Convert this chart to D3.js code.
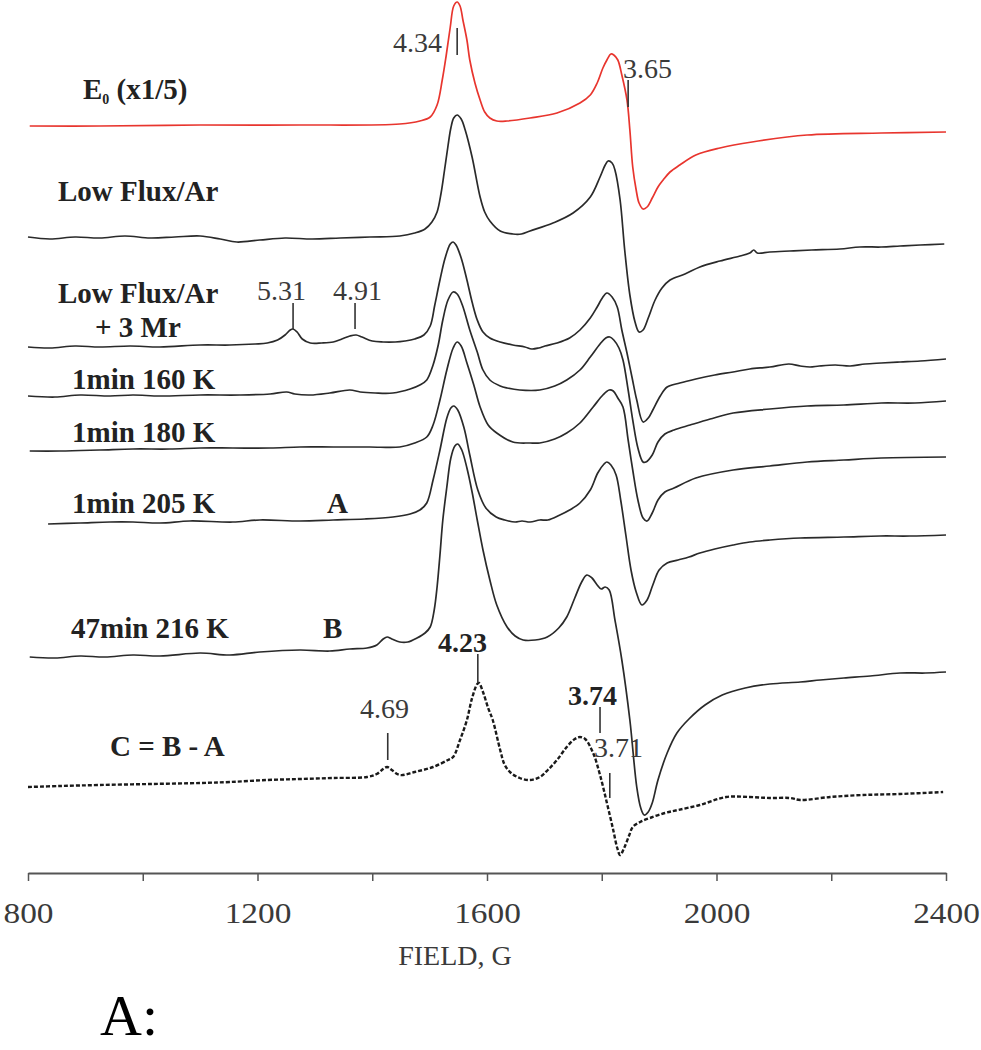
<!DOCTYPE html>
<html>
<head>
<meta charset="utf-8">
<script src="https://cdn.jsdelivr.net/npm/d3@7"></script>
<style>
  html, body { margin: 0; padding: 0; background: #fff; }
  svg { display: block; }
  text { font-family: "Liberation Serif", "Times New Roman", serif; }
</style>
</head>
<body>
<div id="chart"></div>
<script>
// ---------------- DATA ----------------
// x-axis ticks (field, G)
const tickValues = [800, 1000, 1200, 1400, 1600, 1800, 2000, 2200, 2400];
const tickLabels = ["800", "", "1200", "", "1600", "", "2000", "", "2400"];

// trace names and vertical offsets (arbitrary intensity units)
const traceNames = ["E0 (x1/5)", "Low Flux/Ar", "Low Flux/Ar + 3 Mr", "1min 160 K", "1min 180 K", "1min 205 K", "47min 216 K", "C = B - A"];
const traceOffsets = [747, 635, 526, 477, 422, 349, 216, 86];

// each series: [field (G), signal relative to its offset]
const sE0 = [[803,0],[925,0],[1100,1],[1274,1],[1448,2],[1483,5],[1501,9],[1513,21],[1522,46],[1529,71],[1536,99],[1542,120],[1548,124],[1553,120],[1558,106],[1565,86],[1570,66],[1579,43],[1588,26],[1596,14],[1605,8],[1617,5],[1635,5],[1675,8],[1722,13],[1762,23],[1780,31],[1792,43],[1802,58],[1809,66],[1816,72],[1821,71],[1828,66],[1835,51],[1844,26],[1849,-4],[1854,-41],[1860,-64],[1865,-77],[1872,-83],[1879,-81],[1888,-72],[1898,-61],[1907,-54],[1919,-46],[1936,-39],[1964,-29],[2006,-22],[2062,-16],[2158,-9],[2287,-7],[2400,-6]];

const sLowFlux = [[800,1],[838,-1],[882,1],[925,0],[969,2],[1013,0],[1056,1],[1100,2],[1135,-1],[1164,-4],[1204,-2],[1248,0],[1295,-1],[1344,0],[1396,1],[1448,2],[1474,5],[1492,9],[1504,16],[1513,26],[1520,45],[1526,68],[1532,92],[1537,110],[1542,120],[1548,123],[1555,119],[1562,108],[1574,81],[1588,41],[1596,26],[1605,17],[1623,7],[1645,4],[1660,4],[1675,7],[1715,15],[1750,25],[1780,41],[1797,61],[1806,73],[1811,77],[1818,75],[1823,68],[1832,38],[1840,-12],[1849,-57],[1858,-84],[1865,-94],[1872,-92],[1881,-80],[1893,-62],[1905,-50],[1919,-42],[1945,-36],[1971,-29],[2006,-23],[2041,-18],[2058,-15],[2065,-12],[2071,-15],[2093,-14],[2128,-13],[2166,-12],[2215,-11],[2250,-9],[2287,-9],[2320,-8],[2355,-7],[2397,-6]];

const sLowFluxMr = [[800,0],[838,-1],[882,1],[925,0],[978,1],[1030,0],[1100,2],[1152,2],[1196,3],[1217,4],[1235,7],[1248,12],[1257,17],[1262,18],[1269,15],[1278,8],[1292,4],[1312,4],[1332,5],[1347,8],[1361,11],[1372,12],[1382,10],[1400,6],[1419,5],[1440,5],[1457,6],[1474,8],[1490,12],[1501,21],[1509,42],[1518,67],[1527,89],[1536,103],[1541,105],[1546,102],[1555,89],[1565,67],[1574,45],[1583,27],[1593,15],[1605,9],[1623,5],[1645,2],[1666,0],[1678,-2],[1690,-1],[1701,1],[1722,4],[1744,9],[1762,17],[1780,29],[1792,40],[1801,49],[1809,54],[1818,50],[1827,40],[1835,17],[1844,-6],[1853,-31],[1861,-53],[1872,-75],[1881,-71],[1889,-63],[1902,-49],[1914,-40],[1936,-36],[1964,-32],[1997,-28],[2029,-25],[2058,-22],[2093,-20],[2126,-17],[2146,-19],[2163,-20],[2179,-19],[2207,-18],[2233,-19],[2259,-17],[2287,-16],[2320,-15],[2355,-14],[2400,-12]];

const s160 = [[800,0],[847,-1],[891,1],[943,0],[983,1],[1030,0],[1100,1],[1169,1],[1222,2],[1251,4],[1265,2],[1292,1],[1326,3],[1361,6],[1379,4],[1405,3],[1436,3],[1466,7],[1483,11],[1495,16],[1506,31],[1515,51],[1523,76],[1532,96],[1541,104],[1548,102],[1557,91],[1570,66],[1583,44],[1593,26],[1605,16],[1623,10],[1635,8],[1657,6],[1692,6],[1718,10],[1739,16],[1762,26],[1780,39],[1797,52],[1807,58],[1814,59],[1821,56],[1830,48],[1837,36],[1846,6],[1854,-24],[1863,-52],[1872,-66],[1877,-66],[1888,-59],[1898,-46],[1910,-38],[1926,-34],[1954,-29],[1989,-23],[2029,-17],[2093,-13],[2158,-10],[2222,-9],[2287,-7],[2346,-7],[2400,-5]];

const s180 = [[803,0],[856,0],[925,1],[983,2],[1047,2],[1100,3],[1157,3],[1222,3],[1274,4],[1332,4],[1396,4],[1448,4],[1474,8],[1495,14],[1506,26],[1518,51],[1530,81],[1541,103],[1548,109],[1555,105],[1565,88],[1577,66],[1588,44],[1602,26],[1617,18],[1645,9],[1675,8],[1692,8],[1718,12],[1739,18],[1762,28],[1785,44],[1802,56],[1813,61],[1820,60],[1828,53],[1837,44],[1846,11],[1854,-19],[1863,-49],[1872,-67],[1879,-70],[1888,-62],[1898,-49],[1910,-41],[1926,-37],[1964,-27],[2029,-19],[2093,-15],[2158,-11],[2222,-9],[2287,-7],[2400,-6]];

const s205 = [[835,0],[891,1],[943,2],[983,2],[1030,1],[1082,3],[1157,2],[1204,4],[1274,3],[1332,4],[1387,5],[1436,7],[1466,10],[1483,14],[1495,21],[1506,44],[1518,74],[1530,106],[1537,116],[1542,118],[1549,114],[1560,96],[1570,69],[1584,34],[1598,16],[1616,7],[1631,4],[1649,2],[1661,3],[1675,2],[1692,4],[1706,4],[1727,9],[1744,14],[1762,21],[1780,34],[1793,51],[1804,60],[1809,62],[1816,59],[1825,49],[1833,24],[1842,-11],[1851,-46],[1860,-68],[1870,-81],[1879,-76],[1889,-61],[1900,-46],[1914,-39],[1933,-36],[1952,-33],[1971,-29],[1997,-25],[2029,-21],[2058,-18],[2093,-16],[2146,-14],[2222,-13],[2285,-12],[2337,-12],[2400,-11]];

const s216 = [[803,0],[847,-1],[891,1],[934,0],[983,2],[1030,1],[1100,4],[1152,2],[1204,5],[1274,7],[1326,6],[1361,8],[1391,9],[1408,12],[1419,18],[1426,20],[1434,18],[1448,15],[1462,15],[1478,19],[1492,24],[1501,30],[1508,47],[1513,70],[1518,102],[1523,137],[1530,170],[1537,199],[1544,211],[1549,213],[1556,207],[1565,189],[1574,165],[1583,137],[1593,107],[1605,77],[1617,52],[1635,30],[1649,21],[1663,17],[1684,17],[1705,20],[1725,29],[1739,40],[1753,59],[1765,75],[1774,82],[1783,79],[1792,72],[1799,68],[1806,70],[1813,67],[1823,37],[1835,-3],[1849,-63],[1861,-130],[1868,-151],[1874,-158],[1881,-155],[1888,-146],[1898,-123],[1914,-96],[1931,-76],[1952,-62],[1980,-48],[2010,-38],[2050,-31],[2093,-27],[2146,-25],[2181,-23],[2222,-21],[2268,-19],[2320,-16],[2364,-16],[2400,-15]];

const sDiff = [[800,0],[856,1],[925,2],[1013,3],[1100,4],[1152,5],[1217,7],[1274,8],[1332,9],[1391,10],[1408,13],[1419,18],[1426,20],[1434,17],[1448,12],[1474,15],[1506,20],[1532,27],[1541,30],[1553,47],[1565,67],[1574,89],[1583,103],[1586,104],[1593,95],[1602,79],[1610,67],[1623,37],[1631,22],[1642,14],[1657,9],[1675,7],[1692,10],[1706,17],[1722,27],[1739,40],[1753,48],[1762,50],[1771,48],[1785,34],[1797,12],[1809,-16],[1820,-43],[1827,-61],[1832,-68],[1839,-61],[1848,-48],[1854,-40],[1867,-35],[1884,-31],[1910,-26],[1933,-23],[1971,-18],[2017,-10],[2058,-10],[2093,-11],[2128,-11],[2146,-13],[2198,-10],[2255,-8],[2320,-7],[2395,-5]];

const seriesList = [sE0, sLowFlux, sLowFluxMr, s160, s180, s205, s216, sDiff];
const seriesColors = ["#e8352e", "#2a2a2a", "#2a2a2a", "#2a2a2a", "#2a2a2a", "#2a2a2a", "#2a2a2a", "#1a1a1a"];
const seriesDash = [null, null, null, null, null, null, null, "4,2"];

// g-value annotation labels and the field of each marker
const gLabels = ["4.34", "3.65", "5.31", "4.91", "4.69", "4.23", "3.74", "3.71"];
const gFields = [1548, 1846, 1262, 1370, 1427, 1584, 1797, 1814];

// ---------------- CHART ----------------
const W = 981, H = 1050;
const svg = d3.select("#chart").append("svg")
  .attr("width", W).attr("height", H)
  .style("background", "#fff");

const x = d3.scaleLinear().domain([800, 2400]).range([28, 946]);
const y = d3.scaleLinear().domain([0, 873]).range([873, 0]);

const line = d3.line()
  .x(d => x(d[0]))
  .y(d => y(d[1]))
  .curve(d3.curveCatmullRom.alpha(0.5));

seriesList.forEach((s, i) => {
  const off = traceOffsets[i];
  svg.append("path")
    .datum(s.map(d => [d[0], d[1] + off]))
    .attr("d", line)
    .attr("fill", "none")
    .attr("stroke", seriesColors[i])
    .attr("stroke-width", i === 7 ? 2.4 : 1.7)
    .attr("stroke-dasharray", seriesDash[i])
    .attr("stroke-linejoin", "round");
});

// axis
const axis = d3.axisBottom(x)
  .tickValues(tickValues)
  .tickFormat((d, i) => tickLabels[i])
  .tickSize(8)
  .tickSizeOuter(0)
  .tickPadding(21);
const gAxis = svg.append("g").attr("transform", "translate(0,873)").call(axis);
gAxis.select(".domain").attr("stroke", "#555").attr("stroke-width", 2);
gAxis.selectAll(".tick line").attr("stroke", "#555").attr("stroke-width", 1.5);
gAxis.selectAll(".tick text")
  .attr("font-family", "Liberation Serif, serif")
  .attr("font-size", 29)
  .attr("fill", "#3a3a3a")
  .attr("transform", "scale(1.15,1)");

svg.append("text")
  .attr("x", x(1600) - 32).attr("y", 965)
  .attr("text-anchor", "middle")
  .attr("font-size", 28).attr("fill", "#3a3a3a")
  .text("FIELD, G");

svg.append("text")
  .attr("x", 100).attr("y", 1035)
  .attr("font-size", 58).attr("fill", "#000")
  .text("A:");

// trace labels (bold)
const bold = (tx, ty, t) => svg.append("text")
  .attr("x", tx).attr("y", ty)
  .attr("font-size", 29).attr("font-weight", "bold")
  .attr("fill", "#222")
  .text(t);

const e0 = svg.append("text").attr("x", 83).attr("y", 99)
  .attr("font-size", 29).attr("font-weight", "bold").attr("fill", "#222");
e0.append("tspan").text("E");
e0.append("tspan").attr("font-size", 14).attr("dy", 5).text("0");
e0.append("tspan").attr("dy", -5).text(" (x1/5)");

bold(58, 201, traceNames[1]);
bold(58, 303, "Low Flux/Ar");
bold(95, 337, "+ 3 Mr");
bold(72, 389, traceNames[3]);
bold(72, 442, traceNames[4]);
bold(72, 513, traceNames[5]);
bold(327, 513, "A");
bold(71, 638, traceNames[6]);
bold(323, 638, "B");
bold(110, 756, traceNames[7]);

// g-value annotations: text position and marker extent
const annText = [
  {t: 0, tx: 393, ty: 52, bold: false, y1: 28, y2: 55},
  {t: 1, tx: 623, ty: 78, bold: false, y1: 80, y2: 107},
  {t: 2, tx: 257, ty: 300, bold: false, y1: 303, y2: 329},
  {t: 3, tx: 333, ty: 300, bold: false, y1: 303, y2: 329},
  {t: 4, tx: 360, ty: 718, bold: false, y1: 733, y2: 760},
  {t: 5, tx: 438, ty: 652, bold: true, y1: 654, y2: 683},
  {t: 6, tx: 568, ty: 705, bold: true, y1: 707, y2: 733},
  {t: 7, tx: 594, ty: 757, bold: false, y1: 773, y2: 798}
];
annText.forEach(a => {
  svg.append("text")
    .attr("x", a.tx).attr("y", a.ty)
    .attr("font-size", 28)
    .attr("font-weight", a.bold ? "bold" : "normal")
    .attr("fill", a.bold ? "#222" : "#3a3a3a")
    .text(gLabels[a.t]);
  svg.append("line")
    .attr("x1", x(gFields[a.t])).attr("x2", x(gFields[a.t]))
    .attr("y1", a.y1).attr("y2", a.y2)
    .attr("stroke", "#333").attr("stroke-width", 1.6);
});
</script>
</body>
</html>
